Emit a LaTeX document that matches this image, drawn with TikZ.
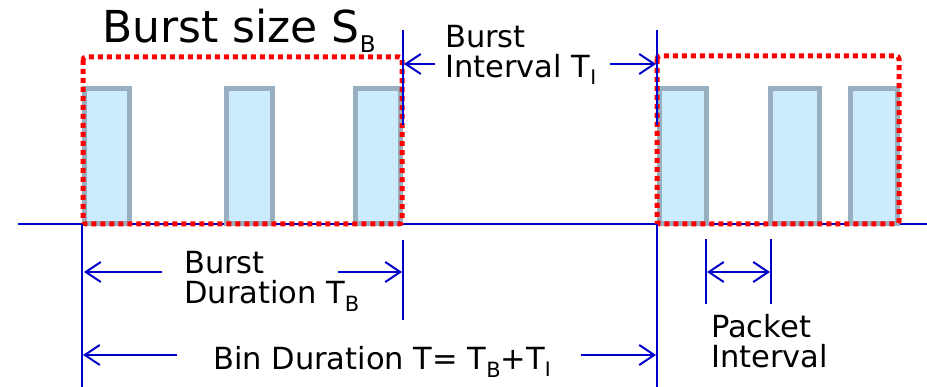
\documentclass[tikz,border=0pt]{standalone}
\usepackage{fontspec}
\setmainfont{DejaVu Sans}
\usetikzlibrary{arrows.meta}
\definecolor{barfill}{RGB}{204,235,252}
\definecolor{bargray}{RGB}{152,175,192}
\definecolor{dimblue}{RGB}{0,0,204}
\newcommand\lowsub[3]{\raisebox{-#2pt}{\fontsize{#1}{#1}\selectfont #3}}
\begin{document}
\begin{tikzpicture}[x=1pt,y=-1pt,
  bar/.style={draw=bargray,fill=barfill,line width=5pt},
  burstbox/.style={draw=red,line width=5pt,dash pattern=on 5pt off 4pt,rounded corners=3pt},
  blueline/.style={draw=dimblue,line width=2pt},
  dimarrow/.style={blueline,-{Straight Barb[length=15pt,width=20pt,line width=2pt]}},
  dimboth/.style={blueline,{Straight Barb[length=15pt,width=20pt,line width=2pt]}-{Straight Barb[length=15pt,width=20pt,line width=2pt]}},
  lbl/.style={anchor=base west,inner sep=0pt,font=\fontsize{30.5}{36}\selectfont},
  biglbl/.style={anchor=base west,inner sep=0pt,font=\fontsize{44}{50}\selectfont}]
\useasboundingbox (0,0) rectangle (927,387);
\fill[white] (0,0) rectangle (927,387);
% axis
\coordinate (axL) at (18,224);
\coordinate (axR) at (927,224);
\draw[blueline] (axL) -- (axR);
% packets
\foreach \a/\b in {82/132,224/275,353/403,657/709,768/822,848/900}
  \draw[bar] (\a+2.5,88.5) rectangle (\b-2.5,224);
% burst boxes
\draw[burstbox] (83,57) rectangle (402,224);
\draw[burstbox] (657,56) rectangle (899,224);
% vertical reference lines
\coordinate (v1a) at (82,224);   \coordinate (v1b) at (82,387);
\coordinate (v2a) at (403,30);   \coordinate (v2b) at (403,125);
\coordinate (v3a) at (403,240);  \coordinate (v3b) at (403,320);
\coordinate (v4a) at (657,30);   \coordinate (v4b) at (657,125);
\coordinate (v5a) at (657,224);  \coordinate (v5b) at (657,387);
\coordinate (v6a) at (706,239);  \coordinate (v6b) at (706,304);
\coordinate (v7a) at (771,239);  \coordinate (v7b) at (771,304);
\foreach \v in {1,...,7} \draw[blueline] (v\v a) -- (v\v b);
% labels
\node[biglbl] (size) at (102,43) {Burst size S\lowsub{23}{10}{B}};
\node[lbl] (bi1) at (445,48) {Burst};
\node[lbl] (bi2) at (445,78) {Interval T\lowsub{20}{7}{I}};
\node[lbl] (bd1) at (184,274) {Burst};
\node[lbl] (bd2) at (184,304) {Duration T\lowsub{21}{8}{B}};
\node[lbl] (bin) at (213,370) {Bin Duration T= T\lowsub{21}{8}{B}+T\lowsub{20}{7}{I}};
\node[lbl] (pk1) at (711,338) {Packet};
\node[lbl] (pk2) at (711,368) {Interval};
% dimension arrows
\coordinate (a1s) at (435,64);  \coordinate (a1e) at (404,64);
\coordinate (a2s) at (610,64);  \coordinate (a2e) at (656,64);
\coordinate (a3s) at (162,272); \coordinate (a3e) at (84,272);
\coordinate (a4s) at (338,272); \coordinate (a4e) at (402,272);
\coordinate (a5s) at (177,355); \coordinate (a5e) at (83,355);
\coordinate (a6s) at (581,355); \coordinate (a6e) at (656,355);
\foreach \v in {1,...,6} \draw[dimarrow] (a\v s) -- (a\v e);
\coordinate (p1) at (707,272); \coordinate (p2) at (770,272);
\draw[dimboth] (p1) -- (p2);
\end{tikzpicture}
\end{document}
